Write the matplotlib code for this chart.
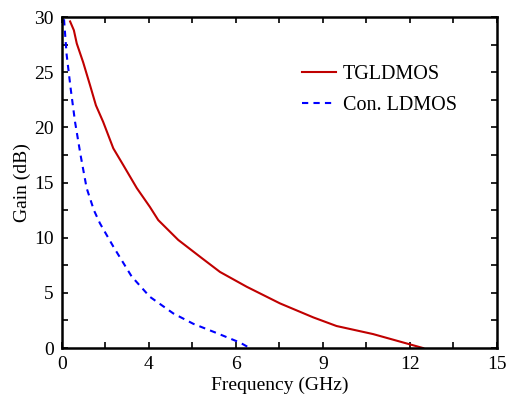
import matplotlib.pyplot as plt
from matplotlib.ticker import FixedLocator

# Gain vs frequency
tg_freq = [0.28, 0.41, 0.51, 0.73, 0.97, 1.17, 1.42, 1.77, 2.11, 2.58, 3.03,
           3.32, 4.01, 4.8, 5.45, 6.37, 7.52, 8.67, 9.47, 10.73, 12.46]
tg_gain = [29.6, 28.8, 27.6, 25.9, 23.8, 22.0, 20.5, 18.1, 16.6, 14.5, 12.8,
           11.6, 9.8, 8.2, 6.9, 5.56, 4.05, 2.78, 2.0, 1.27, 0.0]

con_freq = [0.07, 0.16, 0.3, 0.45, 0.64, 0.85, 1.1, 1.31, 1.77, 2.4, 3.03,
            3.84, 4.53, 5.3, 6.14, 6.48]
con_gain = [29.8, 26.6, 23.5, 20.5, 17.5, 14.5, 12.5, 11.3, 9.2, 6.5, 4.65,
            3.14, 2.2, 1.4, 0.5, 0.0]

x_ticks = [0, 3, 6, 9, 12, 15]
x_labels = ['0', '4', '6', '9', '12', '15']
y_ticks = [0, 5, 10, 15, 20, 25, 30]

plt.rcParams['font.family'] = ['Liberation Serif', 'DejaVu Serif']

fig = plt.figure(figsize=(5.14, 3.96), dpi=100)
ax = fig.add_axes([0.1206, 0.121, 0.846, 0.836])

ax.plot(tg_freq, tg_gain, color='#c00000', lw=1.5, label='TGLDMOS')
ax.plot(con_freq, con_gain, color='#0000ff', lw=1.5, ls=(0, (3, 2.5)),
        label='Con. LDMOS')

ax.set_xlim(0, 15)
ax.set_ylim(0, 30)
ax.set_xticks(x_ticks)
ax.set_xticklabels(x_labels)
ax.set_yticks(y_ticks)
ax.xaxis.set_minor_locator(FixedLocator([1.5, 4.5, 7.5, 10.5, 13.5]))
ax.yaxis.set_minor_locator(FixedLocator([2.5, 7.5, 12.5, 17.5, 22.5, 27.5]))
ax.tick_params(which='both', direction='in', top=True, right=True,
               length=4, width=1.2, labelsize=14)
ax.tick_params(axis='x', which='major', pad=6)
ax.tick_params(axis='y', which='major', pad=6)

for s in ax.spines.values():
    s.set_linewidth(1.8)

ax.set_xlabel('Frequency (GHz)', fontsize=14, labelpad=2)
ax.set_ylabel('Gain (dB)', fontsize=14, labelpad=2)

ax.legend(loc='upper left', bbox_to_anchor=(0.51, 0.91), frameon=False,
          fontsize=14.5, handlelength=1.7, handletextpad=0.35,
          labelspacing=0.6)

fig.savefig('out.png', dpi=100)
